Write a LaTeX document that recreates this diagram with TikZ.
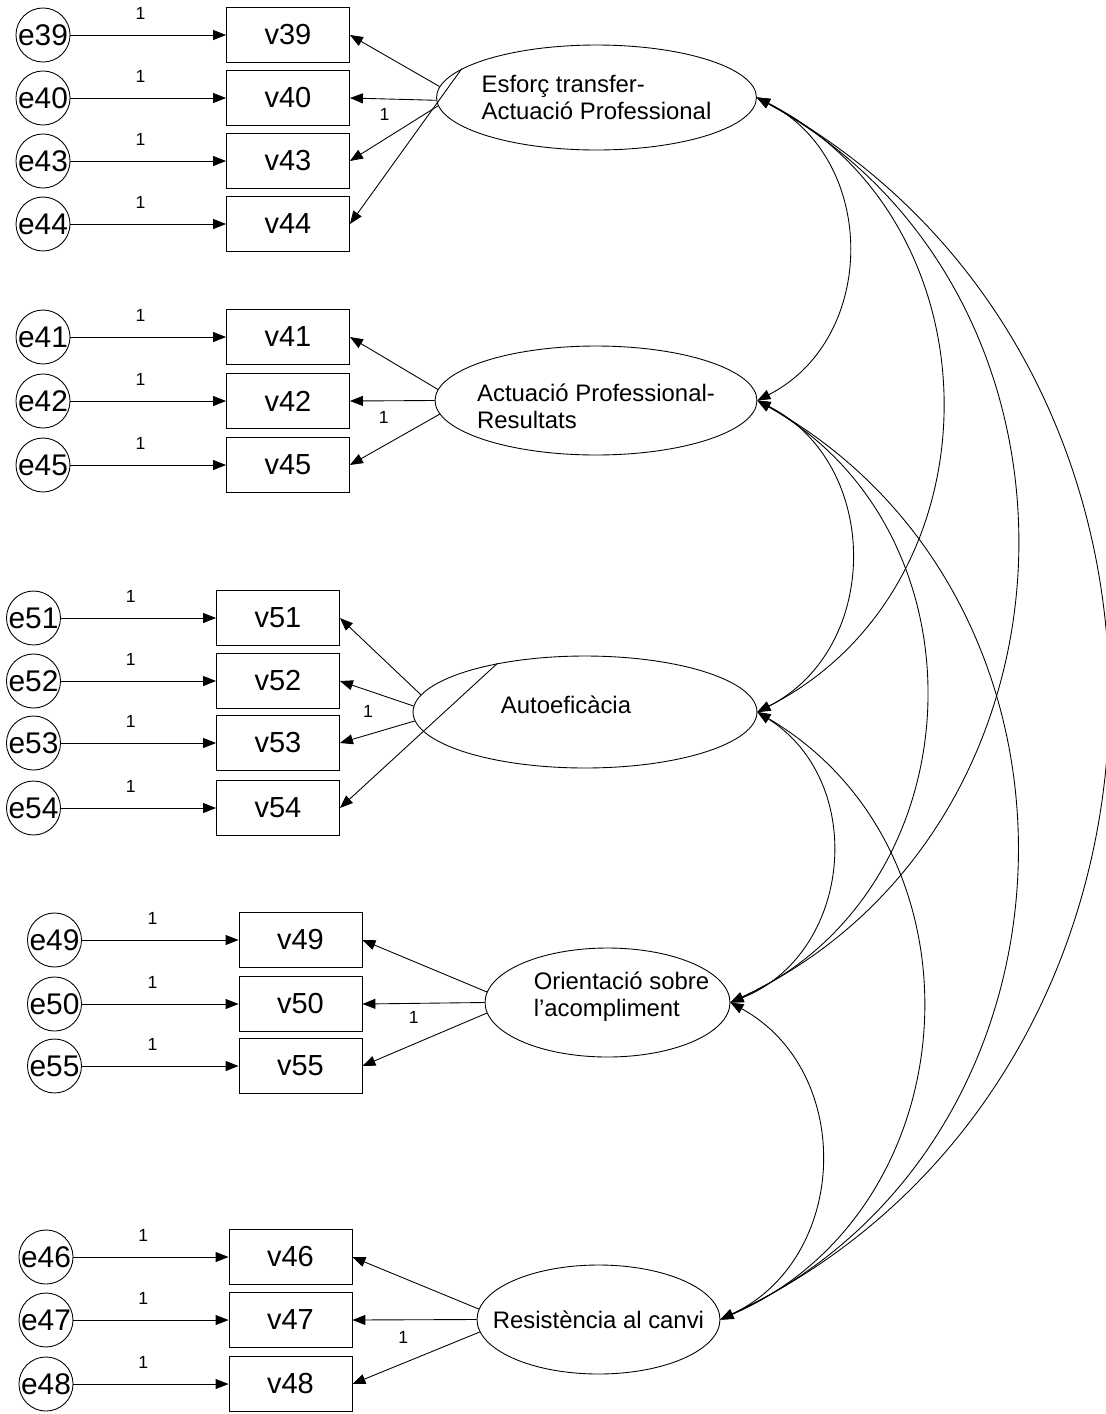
\documentclass[tikz,border=0pt]{standalone}
\usepackage{fontspec}
\setmainfont{Liberation Sans}
\usetikzlibrary{shapes.geometric,arrows.meta}

\tikzset{
	err/.style = {draw, circle, minimum size=1.08cm, inner sep=0, font=\fontsize{17}{19}\selectfont},
	obs/.style = {draw, rectangle, minimum width=2.46cm, minimum height=1.1cm, inner sep=0, font=\fontsize{16.5}{18}\selectfont},
	lat/.style = {draw, ellipse, inner sep=0},
	lattext/.style = {align=left, inner sep=0, font=\fontsize{13.6}{15.3}\selectfont},
	onelabel/.style = {inner sep=0, font=\fontsize{10}{11}\selectfont},
	arr/.style = {-{Triangle[length=0.26cm, width=0.2cm]}},
	cov/.style = {{Triangle[length=0.26cm, width=0.2cm]}-{Triangle[length=0.26cm, width=0.2cm]}, bend left=63, looseness=1.15}
}

\begin{document}
\begin{tikzpicture}[x=0.02cm, y=-0.02cm, line width=0.5pt]

	\useasboundingbox (0,0) rectangle (1106,1414);

	% factors
	\node[lat, minimum width=6.4cm, minimum height=2.1cm] (F1) at (596.5,97.5) {};
	\node[lat, minimum width=6.44cm, minimum height=2.18cm] (F2) at (596,400.5) {};
	\node[lat, minimum width=6.88cm, minimum height=2.24cm] (F3) at (585,712) {};
	\node[lat, minimum width=4.9cm, minimum height=2.18cm] (F4) at (607.5,1002.5) {};
	\node[lat, minimum width=4.86cm, minimum height=2.18cm] (F5) at (598.5,1319.5) {};

	\node[lattext] (t1) at (F1) {Esforç transfer-\\Actuació Professional};
	\node[lattext, yshift=-0.12cm] (t2) at (F2) {Actuació Professional-\\Resultats};
	\node[lattext, xshift=-0.38cm, yshift=0.14cm] (t3) at (F3) {Autoeficàcia};
	\node[lattext, xshift=0.28cm, yshift=0.12cm] (t4) at (F4) {Orientació sobre\\l’acompliment};
	\node[lattext] (t5) at (F5) {Resistència al canvi};

	% errors and items
	\foreach \n/\y in {39/35, 40/98, 43/161, 44/224, 41/337, 42/401, 45/465} {
		\node[err] (e\n) at (43,\y) {e\n};
		\node[obs] (v\n) at (288,\y) {v\n};
		\draw[arr] (e\n) -- (v\n) node[onelabel, pos=0.45, yshift=0.44cm] {1};
	}
	\foreach \n/\y in {51/618, 52/681, 53/743, 54/808} {
		\node[err] (e\n) at (33.5,\y) {e\n};
		\node[obs] (v\n) at (278,\y) {v\n};
		\draw[arr] (e\n) -- (v\n) node[onelabel, pos=0.45, yshift=0.44cm] {1};
	}
	\foreach \n/\y in {49/940, 50/1004, 55/1066} {
		\node[err] (e\n) at (54.5,\y) {e\n};
		\node[obs] (v\n) at (300.5,\y) {v\n};
		\draw[arr] (e\n) -- (v\n) node[onelabel, pos=0.45, yshift=0.44cm] {1};
	}
	\foreach \n/\y in {46/1257, 47/1320, 48/1384} {
		\node[err] (e\n) at (46,\y) {e\n};
		\node[obs] (v\n) at (290.5,\y) {v\n};
		\draw[arr] (e\n) -- (v\n) node[onelabel, pos=0.45, yshift=0.44cm] {1};
	}

	% loadings
	\draw[arr] (F1.176) -- (v39.east);
	\draw[arr] (F1.181) -- (v40.east) node[onelabel, pos=0.6, yshift=-0.32cm] {1};
	\draw[arr] (F1.183) -- (v43.east);
	\draw[arr] (F1.168) -- (v44.east);

	\draw[arr] (F2.176) -- (v41.east);
	\draw[arr] (F2.180) -- (v42.east) node[onelabel, pos=0.6, yshift=-0.34cm] {1};
	\draw[arr] (F2.185) -- (v45.east);

	\draw[arr] (F3.174) -- (v51.east);
	\draw[arr] (F3.178) -- (v52.east) node[onelabel, pos=0.62, yshift=-0.41cm] {1};
	\draw[arr] (F3.183) -- (v53.east);
	\draw[arr] (F3.151) -- (v54.east);

	\draw[arr] (F4.175) -- (v49.east);
	\draw[arr] (F4.180) -- (v50.east) node[onelabel, pos=0.58, yshift=-0.28cm] {1};
	\draw[arr] (F4.185) -- (v55.east);

	\draw[arr] (F5.175) -- (v46.east);
	\draw[arr] (F5.180) -- (v47.east) node[onelabel, pos=0.59, yshift=-0.36cm] {1};
	\draw[arr] (F5.186) -- (v48.east);

	% covariances
	\foreach \a/\b in {F1/F2, F1/F3, F1/F4, F1/F5, F2/F3, F2/F4, F2/F5, F3/F4, F3/F5, F4/F5}
		\draw[cov] (\a.east) to (\b.east);

\end{tikzpicture}
\end{document}
